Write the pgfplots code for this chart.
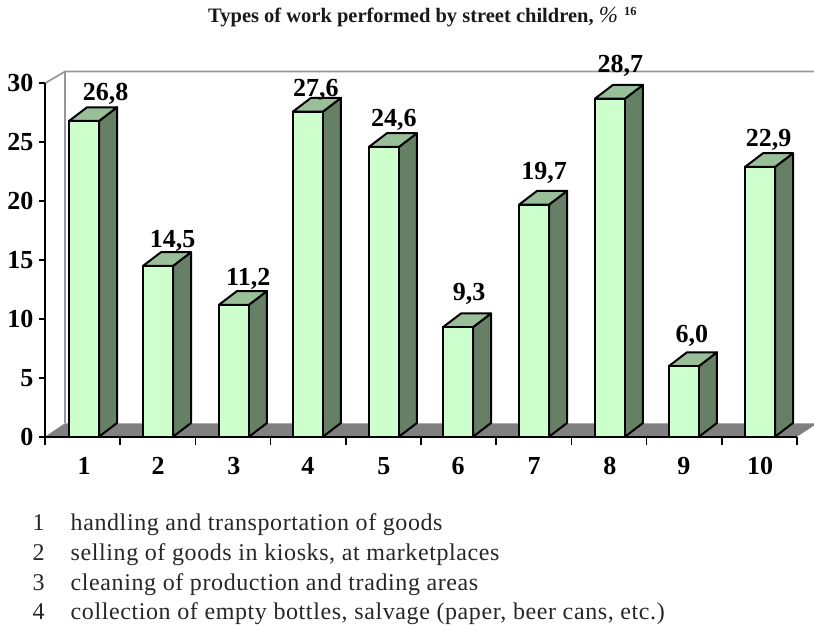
\documentclass[border=0pt]{standalone}
\usepackage{pgfplots}
\usepackage{pgfplotstable}
\usepackage{fontspec}
\pgfplotsset{compat=1.18}
\setmainfont{Liberation Serif}
\definecolor{front}{HTML}{CCFFCC}
\definecolor{sidef}{HTML}{668066}
\definecolor{topf}{HTML}{99BF99}
\definecolor{floorc}{HTML}{808080}
\definecolor{wallc}{HTML}{969696}
\pgfplotstableread{
x v dx dy
0.519 26.8 21.5 20
1.503 14.5 14.7 18
2.513 11.2 14.3 19
3.497 27.6 8 15
4.507 24.6 10 20
5.492 9.3 11 27
6.503 19.7 10 25.6
7.513 28.7 10.5 26
8.497 6.0 8 24
9.508 22.9 8.7 20
}\bardata
\newcommand\sidetop[2]{%
  \pgfmathsetmacro\xa{#1+0.1995}%
  \pgfmathsetmacro\xb{#1+0.4389}%
  \pgfmathsetmacro\xc{#1-0.1995}%
  \pgfmathsetmacro\xd{#1+0.0399}%
  \pgfmathsetmacro\ya{#2+1.163}%
  \addplot[draw=black,line width=2pt,fill=sidef,line join=round] coordinates {(\xa,0) (\xb,1.163) (\xb,\ya) (\xa,#2)} -- cycle;
  \addplot[draw=black,line width=2pt,fill=topf,line join=round] coordinates {(\xc,#2) (\xa,#2) (\xb,\ya) (\xd,\ya)} -- cycle;
}
\begin{document}
\begin{tikzpicture}[x=1pt,y=1pt]
\path[use as bounding box] (0,0) rectangle (814,624);
\begin{axis}[
  at={(45pt,187.3pt)}, anchor=origin,
  scale only axis, width=752pt, height=353.4pt,
  xmin=0, xmax=10, ymin=0, ymax=30,
  clip=false, axis on top,
  axis x line=bottom, axis y line=left,
  axis line style={-,line width=2pt,black},
  tick align=outside, tick pos=lower,
  xtick={0.519,1.503,2.513,3.497,4.507,5.492,6.503,7.513,8.497,9.508},
  xticklabels={1,2,3,4,5,6,7,8,9,10},
  minor xtick={0,1,...,10},
  ytick={0,5,...,30},
  major x tick style={draw=none},
  minor tick length=8pt,
  minor x tick style={line width=1.7pt,black},
  major tick length=6pt,
  y tick style={line width=1.7pt,black},
  /pgf/number format/assume math mode=true,
  tick label style={font=\fontsize{26}{26}\selectfont\bfseries},
  xticklabel style={yshift=-11pt},
  yticklabel style={xshift=-2pt},
]
% walls and floor
\addplot[draw=wallc,line width=1.7pt] coordinates {(0,30) (0.266,31) (10.24,31)};
\addplot[draw=wallc,line width=1.7pt] coordinates {(0.266,31) (0.266,1.14)};
\addplot[draw=none,fill=floorc] coordinates {(0,0) (0.266,1.14) (10.24,1.14) (10.24,1.0) (10,0)} -- cycle;
\sidetop{0.519}{26.8}
\sidetop{1.503}{14.5}
\sidetop{2.513}{11.2}
\sidetop{3.497}{27.6}
\sidetop{4.507}{24.6}
\sidetop{5.492}{9.3}
\sidetop{6.503}{19.7}
\sidetop{7.513}{28.7}
\sidetop{8.497}{6.0}
\sidetop{9.508}{22.9}
\addplot[ybar,bar width=30pt,draw=black,line width=2pt,fill=front,
  visualization depends on={\thisrow{dx} \as \ldx},
  visualization depends on={\thisrow{dy} \as \ldy},
  point meta=explicit,
  nodes near coords,
  nodes near coords style={anchor=base,inner sep=0pt,xshift=\ldx pt,yshift=\ldy pt,
    font=\fontsize{26}{26}\selectfont\bfseries,text=black,
    /pgf/number format/.cd,fixed,fixed zerofill,precision=1,use comma,assume math mode=true},
] table[x=x,y=v,meta=v] {\bardata};
\end{axis}
\node[anchor=base west,inner sep=0pt,font=\fontsize{20.5}{20.5}\selectfont\bfseries,text=black!90] at (208,601.3)
  {Types of work performed by street children, \textit{\mdseries\fontsize{23}{23}\selectfont\%}\raisebox{7pt}{\fontsize{12.5}{12.5}\selectfont\ \ 16}};
\begin{scope}[every node/.style={anchor=base west,inner sep=0pt,text=black!85,font=\fontsize{24}{24}\selectfont\addfontfeature{LetterSpace=2.5}}]
\node at (32.5,93) {1}; \node at (70.5,93) {handling and transportation of goods};
\node at (32.5,63.5) {2}; \node at (70.5,63.5) {selling of goods in kiosks, at marketplaces};
\node at (32.5,34) {3}; \node at (70.5,34) {cleaning of production and trading areas};
\node at (32.5,4.3) {4}; \node at (70.5,4.3) {collection of empty bottles, salvage (paper, beer cans, etc.)};
\end{scope}
\end{tikzpicture}
\end{document}
